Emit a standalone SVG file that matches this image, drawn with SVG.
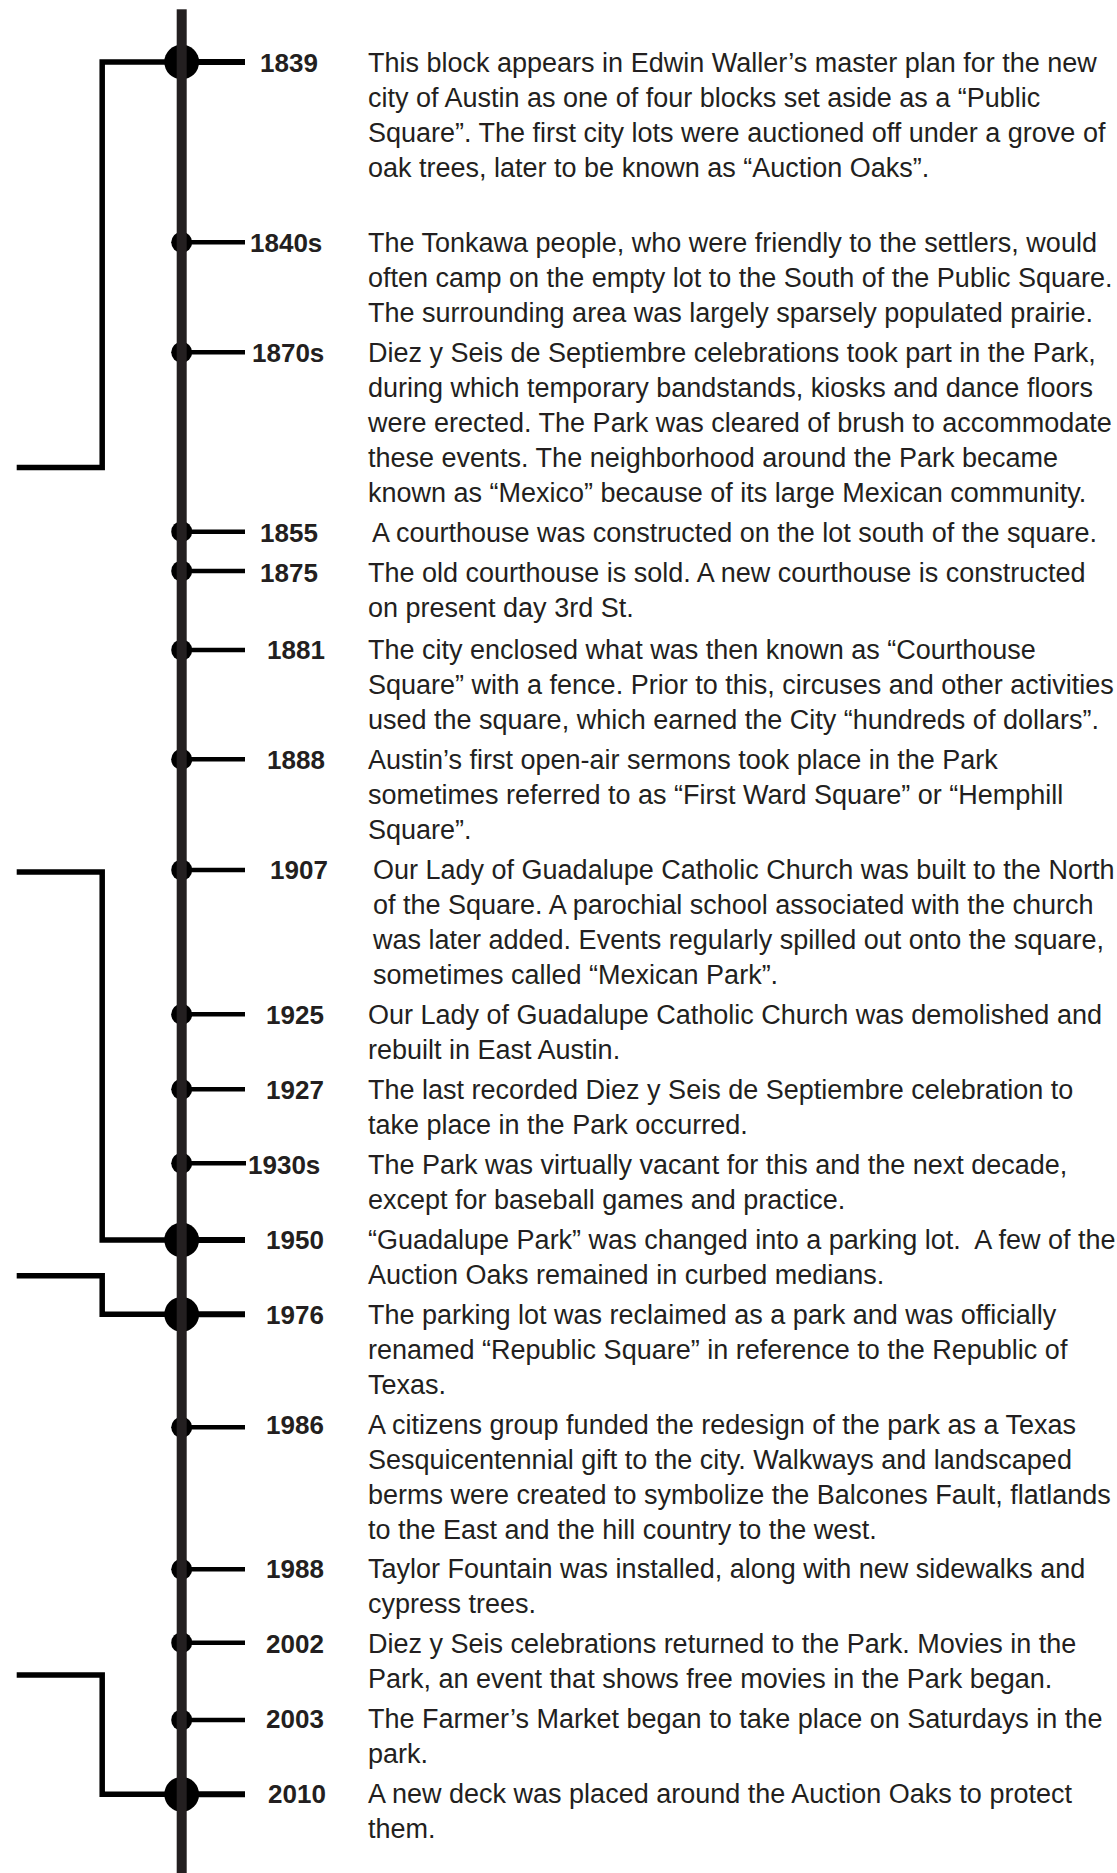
<svg xmlns="http://www.w3.org/2000/svg" width="1117" height="1873" viewBox="0 0 1117 1873">
<style>
.yr{font-family:"Liberation Sans",Arial,Helvetica,sans-serif;font-weight:bold;font-size:26px;fill:#231f20}
.tx{font-family:"Liberation Sans",Arial,Helvetica,sans-serif;font-size:27px;fill:#231f20}
.dot{fill:#000}
.tk{stroke:#000;stroke-width:4.5;fill:none}
.tkb{stroke:#000;stroke-width:6;fill:none}
.br{stroke:#000;stroke-width:5.5;fill:none;stroke-linejoin:miter}
.spine{fill:#231f20}
</style>
<rect width="1117" height="1873" fill="#fff"/>
<g id="n1839"><circle class="dot" cx="181.7" cy="62" r="17.4"/><line class="tkb" x1="182" y1="62" x2="245" y2="62"/><text class="yr" x="260" y="72">1839</text>
<text class="tx" x="368"><tspan x="368" y="72">This block appears in Edwin Waller’s master plan for the new</tspan><tspan x="368" y="107">city of Austin as one of four blocks set aside as a “Public</tspan><tspan x="368" y="142">Square”. The first city lots were auctioned off under a grove of</tspan><tspan x="368" y="177">oak trees, later to be known as “Auction Oaks”.</tspan></text></g>
<g id="n1840s"><circle class="dot" cx="181.7" cy="242.3" r="10.5"/><line class="tk" x1="182" y1="242.3" x2="245" y2="242.3"/><text class="yr" x="250" y="252">1840s</text>
<text class="tx"><tspan x="368" y="252">The Tonkawa people, who were friendly to the settlers, would</tspan><tspan x="368" y="287">often camp on the empty lot to the South of the Public Square.</tspan><tspan x="368" y="322">The surrounding area was largely sparsely populated prairie.</tspan></text></g>
<g id="n1870s"><circle class="dot" cx="181.7" cy="352.3" r="10.5"/><line class="tk" x1="182" y1="352.3" x2="245" y2="352.3"/><text class="yr" x="252" y="362">1870s</text>
<text class="tx"><tspan x="368" y="362">Diez y Seis de Septiembre celebrations took part in the Park,</tspan><tspan x="368" y="397">during which temporary bandstands, kiosks and dance floors</tspan><tspan x="368" y="432">were erected. The Park was cleared of brush to accommodate</tspan><tspan x="368" y="467">these events. The neighborhood around the Park became</tspan><tspan x="368" y="502">known as “Mexico” because of its large Mexican community.</tspan></text></g>
<g id="n1855"><circle class="dot" cx="181.7" cy="531.7" r="10.5"/><line class="tk" x1="182" y1="531.7" x2="245" y2="531.7"/><text class="yr" x="260" y="542">1855</text>
<text class="tx"><tspan x="372" y="542">A courthouse was constructed on the lot south of the square.</tspan></text></g>
<g id="n1875"><circle class="dot" cx="181.7" cy="571" r="10.5"/><line class="tk" x1="182" y1="571" x2="245" y2="571"/><text class="yr" x="260" y="582">1875</text>
<text class="tx"><tspan x="368" y="582">The old courthouse is sold. A new courthouse is constructed</tspan><tspan x="368" y="617">on present day 3rd St.</tspan></text></g>
<g id="n1881"><circle class="dot" cx="181.7" cy="650" r="10.5"/><line class="tk" x1="182" y1="650" x2="245" y2="650"/><text class="yr" x="267" y="659">1881</text>
<text class="tx"><tspan x="368" y="659">The city enclosed what was then known as “Courthouse</tspan><tspan x="368" y="694">Square” with a fence. Prior to this, circuses and other activities</tspan><tspan x="368" y="729">used the square, which earned the City “hundreds of dollars”.</tspan></text></g>
<g id="n1888"><circle class="dot" cx="181.7" cy="759.3" r="10.5"/><line class="tk" x1="182" y1="759.3" x2="245" y2="759.3"/><text class="yr" x="267" y="769">1888</text>
<text class="tx"><tspan x="368" y="769">Austin’s first open-air sermons took place in the Park</tspan><tspan x="368" y="804">sometimes referred to as “First Ward Square” or “Hemphill</tspan><tspan x="368" y="839">Square”.</tspan></text></g>
<g id="n1907"><circle class="dot" cx="181.7" cy="870" r="10.5"/><line class="tk" x1="182" y1="870" x2="245" y2="870"/><text class="yr" x="270" y="879">1907</text>
<text class="tx"><tspan x="373" y="879">Our Lady of Guadalupe Catholic Church was built to the North</tspan><tspan x="373" y="914">of the Square. A parochial school associated with the church</tspan><tspan x="373" y="949">was later added. Events regularly spilled out onto the square,</tspan><tspan x="373" y="984">sometimes called “Mexican Park”.</tspan></text></g>
<g id="n1925"><circle class="dot" cx="181.7" cy="1014.3" r="10.5"/><line class="tk" x1="182" y1="1014.3" x2="245" y2="1014.3"/><text class="yr" x="266" y="1024">1925</text>
<text class="tx"><tspan x="368" y="1024">Our Lady of Guadalupe Catholic Church was demolished and</tspan><tspan x="368" y="1059">rebuilt in East Austin.</tspan></text></g>
<g id="n1927"><circle class="dot" cx="181.7" cy="1089.3" r="10.5"/><line class="tk" x1="182" y1="1089.3" x2="245" y2="1089.3"/><text class="yr" x="266" y="1099">1927</text>
<text class="tx"><tspan x="368" y="1099">The last recorded Diez y Seis de Septiembre celebration to</tspan><tspan x="368" y="1134">take place in the Park occurred.</tspan></text></g>
<g id="n1930s"><circle class="dot" cx="181.7" cy="1163.3" r="10.5"/><line class="tk" x1="182" y1="1163.3" x2="246" y2="1163.3"/><text class="yr" x="248" y="1174">1930s</text>
<text class="tx"><tspan x="368" y="1174">The Park was virtually vacant for this and the next decade,</tspan><tspan x="368" y="1209">except for baseball games and practice.</tspan></text></g>
<g id="n1950"><circle class="dot" cx="181.7" cy="1240" r="17.4"/><line class="tkb" x1="182" y1="1240" x2="245" y2="1240"/><text class="yr" x="266" y="1249">1950</text>
<text class="tx" xml:space="preserve"><tspan x="368" y="1249">“Guadalupe Park” was changed into a parking lot.  A few of the</tspan><tspan x="368" y="1284">Auction Oaks remained in curbed medians.</tspan></text></g>
<g id="n1976"><circle class="dot" cx="181.7" cy="1314.3" r="17.4"/><line class="tkb" x1="182" y1="1314.3" x2="245" y2="1314.3"/><text class="yr" x="266" y="1324">1976</text>
<text class="tx"><tspan x="368" y="1324">The parking lot was reclaimed as a park and was officially</tspan><tspan x="368" y="1359">renamed “Republic Square” in reference to the Republic of</tspan><tspan x="368" y="1394">Texas.</tspan></text></g>
<g id="n1986"><circle class="dot" cx="181.7" cy="1427.3" r="10.5"/><line class="tk" x1="182" y1="1427.3" x2="245" y2="1427.3"/><text class="yr" x="266" y="1434">1986</text>
<text class="tx"><tspan x="368" y="1434">A citizens group funded the redesign of the park as a Texas</tspan><tspan x="368" y="1469">Sesquicentennial gift to the city. Walkways and landscaped</tspan><tspan x="368" y="1504">berms were created to symbolize the Balcones Fault, flatlands</tspan><tspan x="368" y="1539">to the East and the hill country to the west.</tspan></text></g>
<g id="n1988"><circle class="dot" cx="181.7" cy="1569.3" r="10.5"/><line class="tk" x1="182" y1="1569.3" x2="245" y2="1569.3"/><text class="yr" x="266" y="1578">1988</text>
<text class="tx"><tspan x="368" y="1578">Taylor Fountain was installed, along with new sidewalks and</tspan><tspan x="368" y="1613">cypress trees.</tspan></text></g>
<g id="n2002"><circle class="dot" cx="181.7" cy="1642.7" r="10.5"/><line class="tk" x1="182" y1="1642.7" x2="245" y2="1642.7"/><text class="yr" x="266" y="1653">2002</text>
<text class="tx"><tspan x="368" y="1653">Diez y Seis celebrations returned to the Park. Movies in the</tspan><tspan x="368" y="1688">Park, an event that shows free movies in the Park began.</tspan></text></g>
<g id="n2003"><circle class="dot" cx="181.7" cy="1720" r="10.5"/><line class="tk" x1="182" y1="1720" x2="245" y2="1720"/><text class="yr" x="266" y="1728">2003</text>
<text class="tx"><tspan x="368" y="1728">The Farmer’s Market began to take place on Saturdays in the</tspan><tspan x="368" y="1763">park.</tspan></text></g>
<g id="n2010"><circle class="dot" cx="181.7" cy="1794.3" r="17.4"/><line class="tkb" x1="182" y1="1794.3" x2="245" y2="1794.3"/><text class="yr" x="268" y="1803">2010</text>
<text class="tx"><tspan x="368" y="1803">A new deck was placed around the Auction Oaks to protect</tspan><tspan x="368" y="1838">them.</tspan></text></g>
<g id="connectors">
<rect class="spine" x="176.7" y="9.3" width="10" height="1864"/>
<polyline class="br" points="170,62 102.2,62 102.2,467.5 16.7,467.5"/>
<polyline class="br" points="16.7,872 102.2,872 102.2,1240 170,1240"/>
<polyline class="br" points="16.7,1275.8 102.2,1275.8 102.2,1314.3 170,1314.3"/>
<polyline class="br" points="16.7,1675 102.2,1675 102.2,1794.3 170,1794.3"/>
</g>
</svg>
